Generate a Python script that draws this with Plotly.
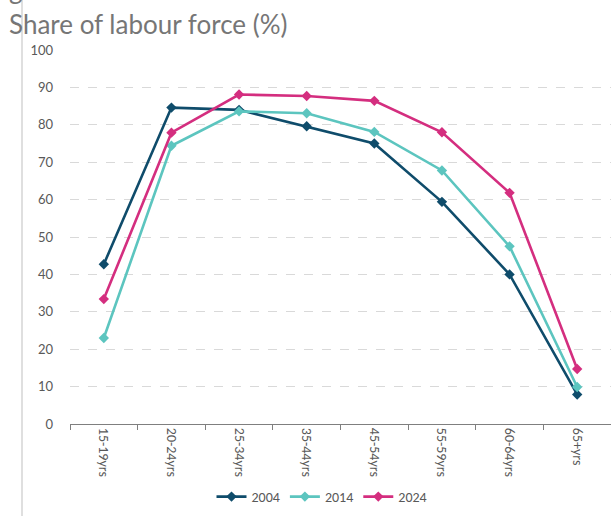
import plotly.graph_objects as go

categories = ["15-19yrs", "20-24yrs", "25-34yrs", "35-44yrs", "45-54yrs", "55-59yrs", "60-64yrs", "65+yrs"]
s2004 = [42.7, 84.6, 84.0, 79.6, 75.0, 59.4, 40.0, 7.9]
s2014 = [23.0, 74.4, 83.6, 83.1, 78.1, 67.8, 47.5, 9.9]
s2024 = [33.4, 77.9, 88.1, 87.7, 86.4, 78.0, 61.8, 14.7]
series = [("2004", s2004, "#0F4C6B"), ("2014", s2014, "#5CC5BF"), ("2024", s2024, "#D42E7F")]

W, H = 611, 516
L, R, T, B = 70, 0, 50, 92
pw, ph = W - L - R, H - T - B

fig = go.Figure()
for name, vals, col in series:
    fig.add_trace(go.Scatter(
        x=categories, y=vals, name=name, mode="lines+markers",
        line=dict(color=col, width=2.6),
        marker=dict(symbol="diamond", size=8, color=col),
    ))

fig.update_layout(
    width=W, height=H,
    margin=dict(l=L, r=R, t=T, b=B, autoexpand=False),
    plot_bgcolor="white", paper_bgcolor="white",
    font=dict(family="Lato, Noto Sans, sans-serif", color="#595959"),
    showlegend=True,
    legend=dict(orientation="h", xref="container", yref="container",
                x=322 / W, y=1 - 497 / H, xanchor="center", yanchor="middle",
                font=dict(size=14, color="#595959", family="Carlito, Liberation Sans, sans-serif"),
                itemwidth=30, tracegroupgap=0),
    xaxis=dict(
        type="category", range=[-0.5, 7.5],
        showline=True, linecolor="#7F7F7F", linewidth=1,
        ticks="outside", tickson="boundaries", ticklen=5, tickcolor="#7F7F7F",
        tickangle=90, tickfont=dict(size=14, color="#595959", family="Carlito, Liberation Sans, sans-serif"),
        showgrid=False, zeroline=False,
    ),
    yaxis=dict(
        range=[0, 100], dtick=10, tick0=0,
        showgrid=True, gridcolor="#D9D9D9", griddash="dash", gridwidth=1,
        zeroline=False, showline=False,
        tickfont=dict(size=13, color="#595959"),
        ticklabelstandoff=16,
    ),
    annotations=[
        dict(text="Share of labour force (%)", xref="paper", yref="paper",
             x=(7 - L) / pw, y=1 + (T - 6) / ph, xanchor="left", yanchor="top",
             showarrow=False, font=dict(size=26, color="#767676")),
        dict(text="g", xref="paper", yref="paper",
             x=(7 - L) / pw, y=1 + (T - 7) / ph, xanchor="left", yanchor="bottom",
             showarrow=False, font=dict(size=26, color="#767676")),
    ],
    shapes=[
        dict(type="line", xref="paper", yref="paper",
             x0=(22 - L) / pw, x1=(22 - L) / pw,
             y0=(H - T - 35) / ph, y1=-(B + 2) / ph,
             line=dict(color="#BFBFBF", width=1)),
    ],
)

fig.write_html("out.html", config={"displayModeBar": False},
               post_script="document.body.style.margin='0';document.body.style.overflow='hidden';")
